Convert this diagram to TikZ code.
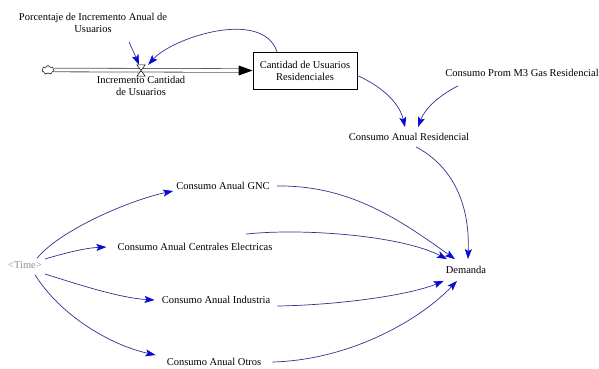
\documentclass[tikz,border=0pt]{standalone}
\usepackage{fontspec}
\setmainfont{Liberation Serif}
\usetikzlibrary{arrows.meta,shapes.symbols}

\definecolor{linkline}{RGB}{50,50,140}
\definecolor{linktip}{RGB}{10,10,215}
\definecolor{shadowvar}{RGB}{135,145,155}

\tikzset{
  lbl/.style={font=\fontsize{10.5}{12}\selectfont, align=center, inner sep=3pt},
  link/.style={draw=linkline, line width=0.7pt,
    -{Stealth[length=10pt,width=7pt,inset=2pt,color=linktip]}},
  stock/.style={lbl, draw, line width=0.7pt, minimum width=104pt, minimum height=37pt},
  pipe/.style={draw=black!65, line width=0.8pt, double=white, double distance=2.8pt},
}

\begin{document}
\begin{tikzpicture}[x=1pt,y=-1pt]
\useasboundingbox[fill=white] (0,0) rectangle (599,368);

% stock-and-flow part
\node[cloud, cloud puffs=7, aspect=1.4, draw, line width=0.5pt,
      inner sep=0pt, minimum width=12pt, minimum height=9pt] (src) at (48,70) {};
\node[stock] (stk) at (305,70.5) {Cantidad de Usuarios\\Residenciales};
\node[inner sep=0pt, minimum width=8pt, minimum height=11pt] (valve) at (141,70.5) {};

\draw[pipe] (src.east) -- ([xshift=-11pt]stk.west);
\fill ([shift={(-14pt,5pt)}]stk.west) -- (stk.west) -- ([shift={(-14pt,-5pt)}]stk.west) -- cycle;
\draw[line width=0.5pt, fill=white] (valve.north west) -- (valve.north east)
  -- (valve.south west) -- (valve.south east) -- cycle;

\node[lbl, inner sep=1pt] (vlab) at (141,86) {Incremento Cantidad\\de Usuarios};
\node[lbl, inner sep=1pt] (porc) at (93,23) {Porcentaje de Incremento Anual de\\Usuarios};

% auxiliaries
\node[lbl, inner sep=1pt] (prom) at (522,73) {Consumo Prom M3 Gas Residencial};
\node[lbl, inner xsep=1pt, inner ysep=6pt] (res) at (409,137) {Consumo Anual Residencial};
\node[lbl, inner xsep=2pt, inner ysep=7pt] (dem) at (466,270) {Demanda};
\node[lbl, text=shadowvar] (time) at (25,265) {<Time>};
\node[lbl] (gnc) at (223,186) {Consumo Anual GNC};
\node[lbl] (cen) at (195,247) {Consumo Anual Centrales Electricas};
\node[lbl] (ind) at (216,300) {Consumo Anual Industria};
\node[lbl] (otr) at (214,362) {Consumo Anual Otros};

% links into the flow
\draw[link] ([shift={(36pt,-8pt)}]porc.south) .. controls (133,50) .. ([xshift=-2pt]valve.north);
\draw[link] ([xshift=-28pt]stk.north) .. controls (262,8) and (172,38) .. ([xshift=3pt]valve.north east);

% links into residential consumption
\draw[link] ([yshift=-5pt]stk.east) .. controls (385,88) and (400,105) .. ([xshift=-4pt]res.north);
\draw[link] ([shift={(-64pt,-8pt)}]prom.south) .. controls (440,95) and (425,108) .. ([xshift=9pt]res.north);

% links from time
\draw[link] ([xshift=12pt]time.north) .. controls (60,230) and (130,200) .. ([yshift=-5pt]gnc.west);
\draw[link] ([yshift=6pt]time.east) .. controls (65,253) and (85,248) .. ([xshift=-8pt]cen.west);
\draw[link] ([yshift=-9pt]time.east) .. controls (80,285) and (120,298) .. ([xshift=-4pt]ind.west);
\draw[link] ([shift={(10pt,-3pt)}]time.south) .. controls (60,315) and (110,345) .. ([shift={(-8pt,7pt)}]otr.west);

% links into demand
\draw[link] ([xshift=7pt]res.south) .. controls (450,165) and (470,200) .. ([xshift=2pt]dem.north);
\draw[link] ([xshift=4pt]gnc.east) .. controls (350,185) and (400,220) .. ([xshift=-11pt]dem.north);
\draw[link] ([shift={(51pt,6pt)}]cen.north) .. controls (300,228) and (400,235) .. ([xshift=-19pt]dem.north);
\draw[link] ([shift={(4pt,-6pt)}]ind.east) .. controls (340,305) and (410,295) .. (dem.south west);
\draw[link] ([xshift=8pt]otr.east) .. controls (350,360) and (420,320) .. ([xshift=-9pt]dem.south);
\end{tikzpicture}
\end{document}
